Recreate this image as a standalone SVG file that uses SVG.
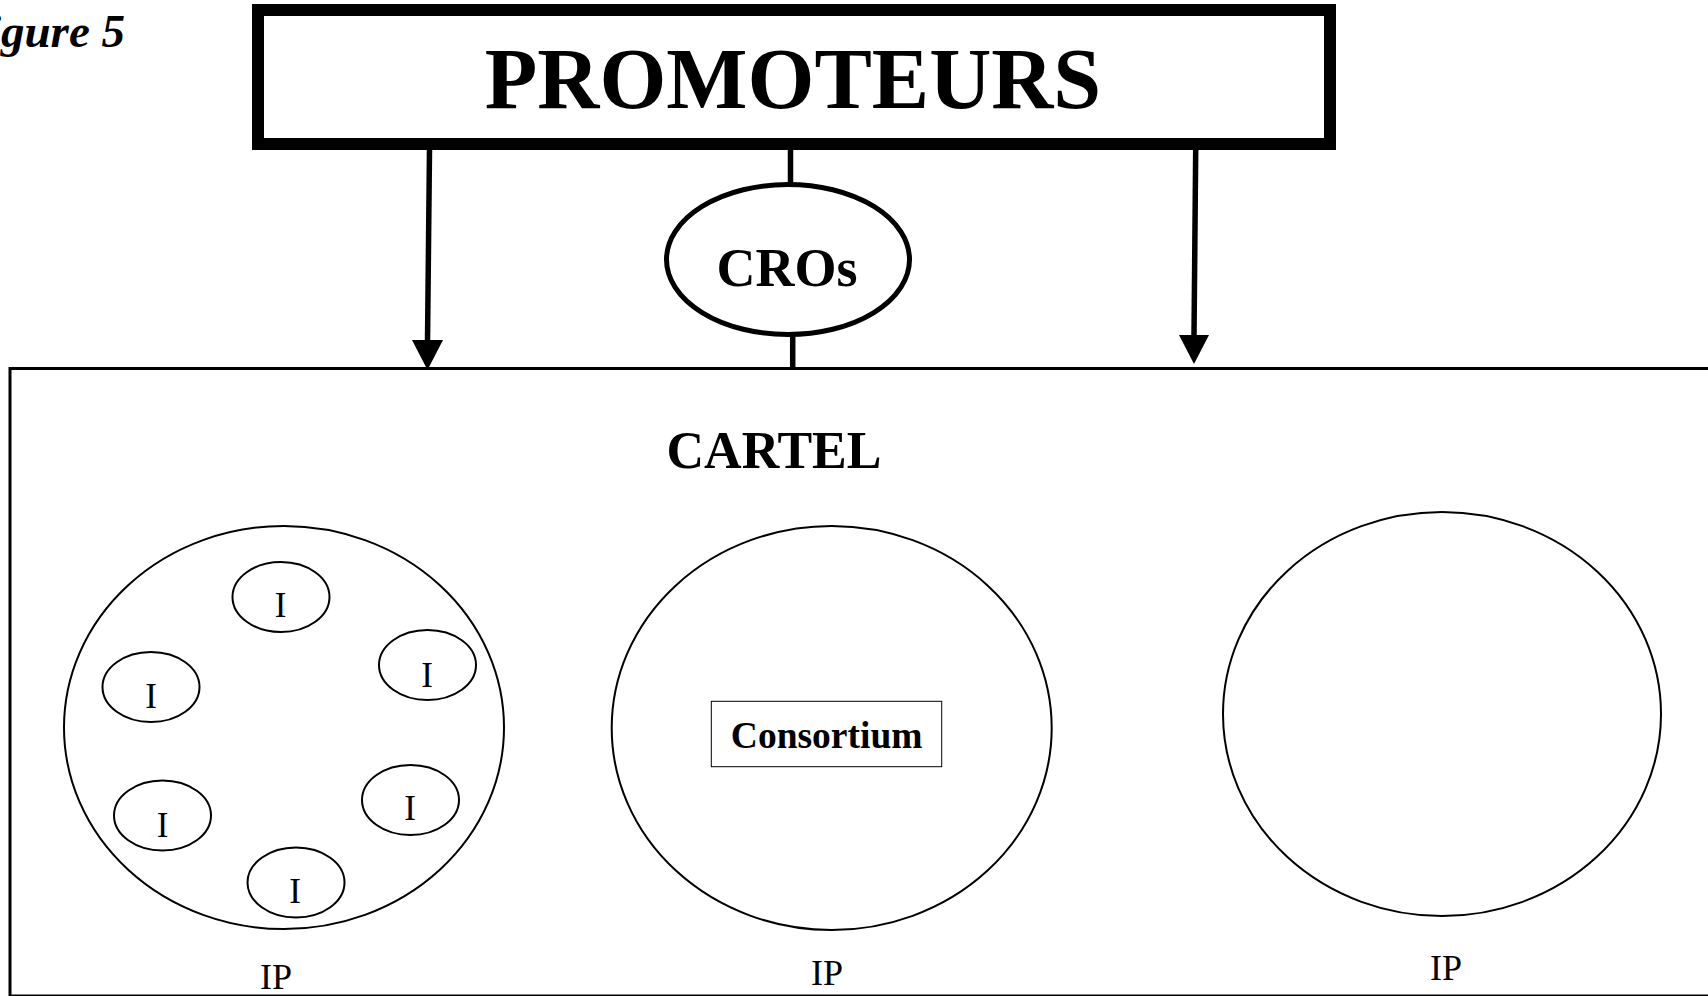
<svg xmlns="http://www.w3.org/2000/svg" width="1708" height="996" viewBox="0 0 1708 996">
<defs>
<style>
.serif{font-family:"Liberation Serif","Times New Roman",serif;fill:#000}
.b{font-weight:bold}
.thin{fill:none;stroke:#000;stroke-width:2}
.conn{stroke:#000;stroke-width:5.5;fill:none}
.ilabel{font-size:35px;text-anchor:middle}
</style>
</defs>
<rect width="1708" height="996" fill="#fff"/>
<text id="figure-label" class="serif b" x="125" y="47" font-size="47" font-style="italic" text-anchor="end">Figure 5</text>
<g id="connectors">
<line class="conn" x1="429.5" y1="150" x2="427.5" y2="342"/>
<polygon points="412,340 443,340 427.5,370" fill="#000"/>
<line class="conn" x1="1195.7" y1="150" x2="1194" y2="337"/>
<polygon points="1179,335 1209,335 1194,364" fill="#000"/>
<line class="conn" x1="790.5" y1="150" x2="790.5" y2="183"/>
<line class="conn" x1="792.7" y1="336" x2="792.7" y2="368"/>
</g>
<g id="promoteurs">
<rect x="258" y="10" width="1072" height="134" fill="#fff" stroke="#000" stroke-width="12"/>
<text class="serif b" x="793" y="108" font-size="86" text-anchor="middle">PROMOTEURS</text>
</g>
<g id="cros">
<ellipse cx="788" cy="259.5" rx="121.5" ry="75" fill="#fff" stroke="#000" stroke-width="5"/>
<text class="serif b" x="787" y="286" font-size="54" text-anchor="middle">CROs</text>
</g>
<g id="cartel">
<rect x="10" y="368.5" width="1720" height="627.5" fill="none" stroke="#000" stroke-width="3"/>
<text class="serif b" x="774" y="468" font-size="52" text-anchor="middle">CARTEL</text>
</g>
<g id="ip-left">
<ellipse class="thin" cx="284" cy="727.5" rx="220" ry="201.5"/>
<text class="serif" x="276" y="988.5" font-size="36" text-anchor="middle">IP</text>
</g>
<g id="i1"><ellipse class="thin" cx="281" cy="597" rx="48.5" ry="35"/><text class="serif ilabel" x="280.5" y="617">I</text></g>
<g id="i2"><ellipse class="thin" cx="427.5" cy="665" rx="48.5" ry="35"/><text class="serif ilabel" x="427" y="686.5">I</text></g>
<g id="i3"><ellipse class="thin" cx="151" cy="687" rx="48.5" ry="35"/><text class="serif ilabel" x="151" y="708">I</text></g>
<g id="i4"><ellipse class="thin" cx="162.5" cy="815.5" rx="48.5" ry="35"/><text class="serif ilabel" x="162.5" y="837">I</text></g>
<g id="i5"><ellipse class="thin" cx="410.5" cy="800" rx="48.5" ry="35"/><text class="serif ilabel" x="410" y="820">I</text></g>
<g id="i6"><ellipse class="thin" cx="296" cy="882.5" rx="48.5" ry="35"/><text class="serif ilabel" x="295" y="903">I</text></g>
<g id="ip-middle">
<ellipse class="thin" cx="831.7" cy="728" rx="220" ry="202"/>
<text class="serif" x="827" y="985" font-size="36" text-anchor="middle">IP</text>
</g>
<g id="consortium">
<rect x="711.3" y="701.3" width="230.4" height="65.4" fill="none" stroke="#000" stroke-width="1"/>
<text class="serif b" x="826.7" y="748.3" font-size="37.5" text-anchor="middle">Consortium</text>
</g>
<g id="ip-right">
<ellipse class="thin" cx="1442" cy="714" rx="219" ry="202"/>
<text class="serif" x="1446" y="980" font-size="36" text-anchor="middle">IP</text>
</g>
</svg>
